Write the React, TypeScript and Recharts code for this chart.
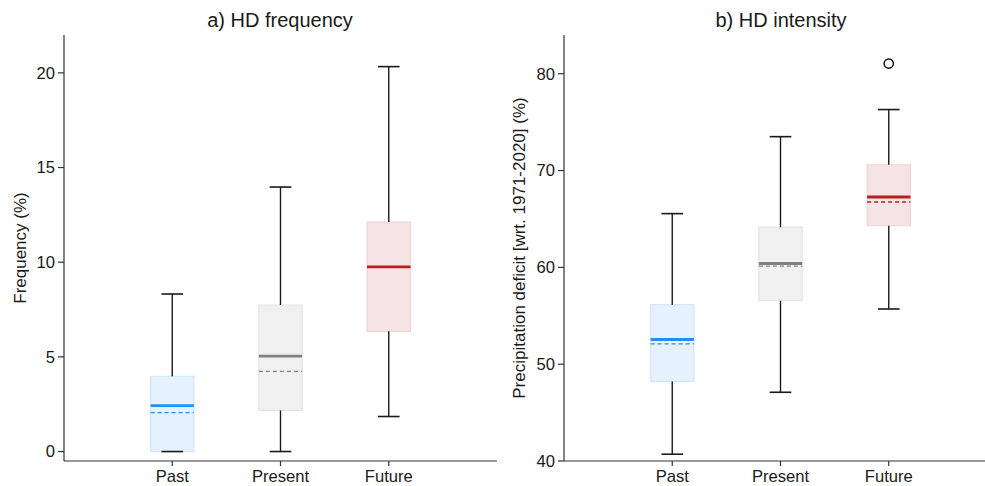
import React from 'react';
import { ComposedChart, XAxis, YAxis, ReferenceArea, ReferenceLine, Scatter } from 'recharts';

const categories = ['Past', 'Present', 'Future'];
const positions = [1, 2, 3];
const medianColors = ['#1e90ff', '#808080', '#b22222'];
const boxFills = ['#e6f1fe', '#f0f0f0', '#f6e4e4'];
const boxEdges = ['#d3e6fc', '#e4e4e4', '#f1d3d3'];

// a) HD frequency (%)
const freqLow = [0, 0, 1.85];
const freqQ1 = [0, 2.17, 6.35];
const freqMedian = [2.42, 5.04, 9.75];
const freqMean = [2.05, 4.23, 9.73];
const freqQ3 = [3.97, 7.74, 12.12];
const freqHigh = [8.32, 13.97, 20.33];
const freqOutliers: { x: number; y: number }[] = [];
const freqTicks = [0, 5, 10, 15, 20];

// b) HD intensity (%)
const intLow = [40.7, 47.1, 55.7];
const intQ1 = [48.22, 56.55, 64.3];
const intMedian = [52.55, 60.4, 67.27];
const intMean = [52.1, 60.13, 66.75];
const intQ3 = [56.15, 64.15, 70.6];
const intHigh = [65.55, 73.5, 76.3];
const intOutliers = [{ x: 3, y: 81.05 }];
const intTicks = [40, 50, 60, 70, 80];

const FONT = '"Liberation Sans", Arial, sans-serif';
const AXIS = '#333333';

type Stats = {
  low: number[]; q1: number[]; median: number[]; mean: number[]; q3: number[]; high: number[];
};

function Panel(props: {
  width: number; yAxisWidth: number; marginRight: number;
  domain: [number, number]; ticks: number[]; stats: Stats;
  outliers: { x: number; y: number }[];
}) {
  const { width, yAxisWidth, marginRight, domain, ticks, stats, outliers } = props;
  const rows = positions.map((x, i) => ({
    x, cat: categories[i], low: stats.low[i], q1: stats.q1[i], median: stats.median[i],
    mean: stats.mean[i], q3: stats.q3[i], high: stats.high[i],
  }));
  const hw = 0.2;
  const cw = 0.1;
  const elems: React.ReactNode[] = [];
  rows.forEach((r, i) => {
    elems.push(
      <ReferenceArea key={'box' + i} x1={r.x - hw} x2={r.x + hw} y1={r.q1} y2={r.q3}
        fill={boxFills[i]} fillOpacity={1} stroke={boxEdges[i]} strokeWidth={1.2} ifOverflow="visible" />
    );
  });
  rows.forEach((r, i) => {
    elems.push(
      <ReferenceLine key={'wu' + i} segment={[{ x: r.x, y: r.q3 }, { x: r.x, y: r.high }]}
        stroke="#1a1a1a" strokeWidth={1.4} ifOverflow="visible" />,
      <ReferenceLine key={'wl' + i} segment={[{ x: r.x, y: r.low }, { x: r.x, y: r.q1 }]}
        stroke="#1a1a1a" strokeWidth={1.4} ifOverflow="visible" />,
      <ReferenceLine key={'cu' + i} segment={[{ x: r.x - cw, y: r.high }, { x: r.x + cw, y: r.high }]}
        stroke="#1a1a1a" strokeWidth={1.6} ifOverflow="visible" />,
      <ReferenceLine key={'cl' + i} segment={[{ x: r.x - cw, y: r.low }, { x: r.x + cw, y: r.low }]}
        stroke="#1a1a1a" strokeWidth={1.6} ifOverflow="visible" />,
      <ReferenceLine key={'mean' + i} segment={[{ x: r.x - hw, y: r.mean }, { x: r.x + hw, y: r.mean }]}
        stroke={medianColors[i]} strokeWidth={1.3} strokeDasharray="4 3" ifOverflow="visible" />,
      <ReferenceLine key={'med' + i} segment={[{ x: r.x - hw, y: r.median }, { x: r.x + hw, y: r.median }]}
        stroke={medianColors[i]} strokeWidth={2.8} ifOverflow="visible" />
    );
  });
  return (
    <ComposedChart width={width} height={486} data={rows}
      margin={{ top: 35, right: marginRight, bottom: 0, left: 0 }}>
      <XAxis type="number" dataKey="x" domain={[0, 4]} ticks={positions} allowDataOverflow
        tickFormatter={(v: number) => categories[v - 1] ?? ''}
        height={25} tickSize={5} tickMargin={4}
        axisLine={{ stroke: AXIS, strokeWidth: 1.2 }} tickLine={{ stroke: AXIS, strokeWidth: 1.2 }}
        tick={{ fill: '#1a1a1a', fontSize: 16.6, fontFamily: FONT }} />
      <YAxis type="number" domain={domain} ticks={ticks} allowDataOverflow width={yAxisWidth}
        tickSize={6} tickMargin={3}
        axisLine={{ stroke: AXIS, strokeWidth: 1.2 }} tickLine={{ stroke: AXIS, strokeWidth: 1.2 }}
        tick={{ fill: '#1a1a1a', fontSize: 16.6, fontFamily: FONT }} />
      {elems}
      {outliers.length > 0 && (
        <Scatter data={outliers} dataKey="y" isAnimationActive={false}
          shape={(p: any) => <circle cx={p.cx} cy={p.cy} r={4.6} fill="none" stroke="#111" strokeWidth={1.5} />} />
      )}
    </ComposedChart>
  );
}

function Title({ text, cx }: { text: string; cx: number }) {
  return (
    <div style={{ position: 'absolute', left: cx - 200, top: 10, width: 400, textAlign: 'center',
      fontFamily: FONT, fontSize: 20, lineHeight: '20px', color: '#1a1a1a', whiteSpace: 'nowrap' }}>{text}</div>
  );
}

function YLabel({ text, cx, cy }: { text: string; cx: number; cy: number }) {
  return (
    <div style={{ position: 'absolute', left: cx - 250, top: cy - 10, width: 500, height: 20,
      lineHeight: '20px', textAlign: 'center', transform: 'rotate(-90deg)', fontFamily: FONT,
      fontSize: 17, color: '#1a1a1a', whiteSpace: 'nowrap' }}>{text}</div>
  );
}

export default function App() {
  return (
    <div style={{ position: 'absolute', left: 0, top: 0, width: 985, height: 486, overflow: 'hidden', background: '#fff' }}>
      <div style={{ position: 'absolute', left: 0, top: 0 }}>
        <Panel width={500} yAxisWidth={64} marginRight={3} domain={[-0.5, 22]} ticks={freqTicks}
          stats={{ low: freqLow, q1: freqQ1, median: freqMedian, mean: freqMean, q3: freqQ3, high: freqHigh }}
          outliers={freqOutliers} />
      </div>
      <div style={{ position: 'absolute', left: 495, top: 0 }}>
        <Panel width={502} yAxisWidth={69} marginRight={0} domain={[40, 84]} ticks={intTicks}
          stats={{ low: intLow, q1: intQ1, median: intMedian, mean: intMean, q3: intQ3, high: intHigh }}
          outliers={intOutliers} />
      </div>
      <Title text="a) HD frequency" cx={280} />
      <Title text="b) HD intensity" cx={781} />
      <YLabel text="Frequency (%)" cx={21} cy={248} />
      <YLabel text="Precipitation deficit [wrt. 1971-2020] (%)" cx={520} cy={248} />
    </div>
  );
}
